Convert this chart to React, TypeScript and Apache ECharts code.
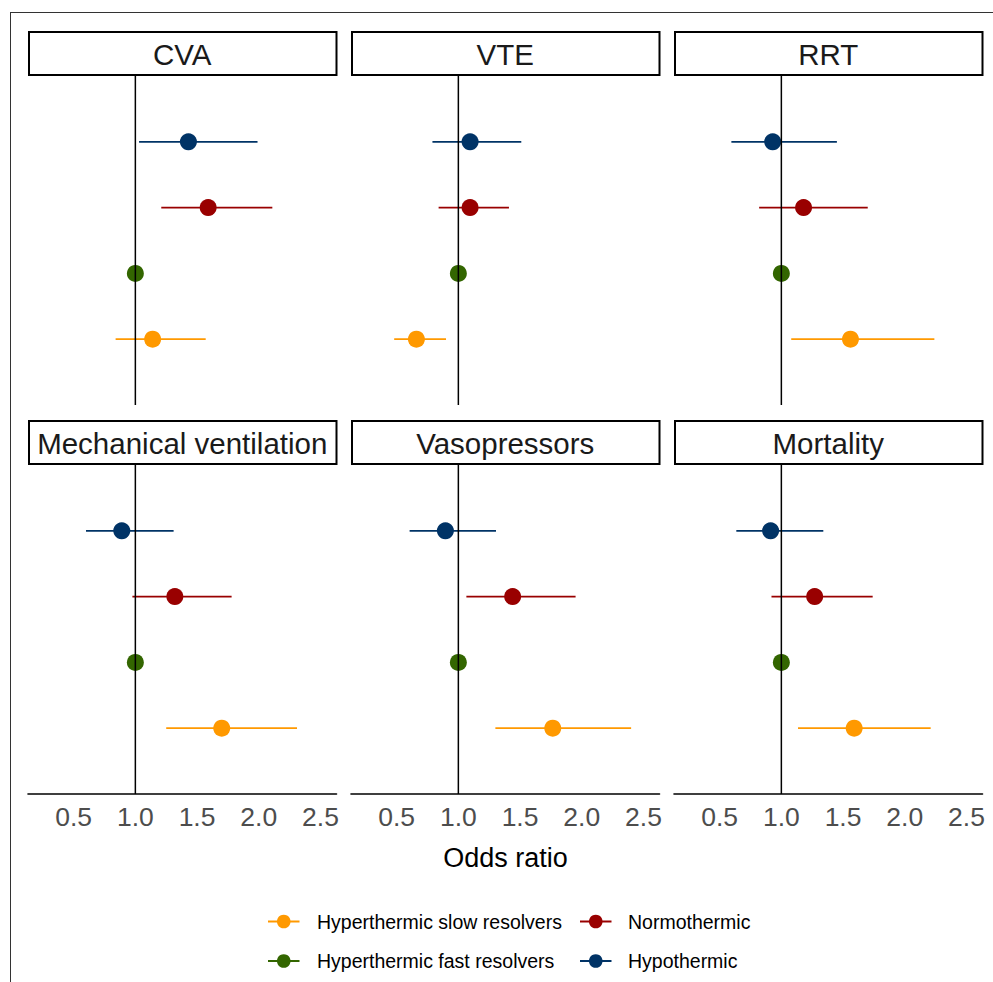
import React, { useEffect, useRef } from "react";
import * as echarts from "echarts";

const PANELS = ["CVA", "VTE", "RRT", "Mechanical ventilation", "Vasopressors", "Mortality"];
const GROUPS = ["Hypothermic", "Normothermic", "Hyperthermic fast resolvers", "Hyperthermic slow resolvers"];
const GROUP_COLORS = ["#003366", "#990000", "#336600", "#FF9900"];
const X_TICKS = [0.5, 1.0, 1.5, 2.0, 2.5];
const AXIS_TITLE = "Odds ratio";

// Odds ratios and 95% CI per panel (order of PANELS)
const hypoOR = [1.43, 1.095, 0.93, 0.89, 0.895, 0.913];
const hypoLo = [1.03, 0.79, 0.595, 0.6, 0.605, 0.635];
const hypoHi = [1.99, 1.51, 1.45, 1.31, 1.305, 1.34];
const normoOR = [1.59, 1.095, 1.18, 1.32, 1.44, 1.27];
const normoLo = [1.21, 0.84, 0.82, 0.976, 1.065, 0.92];
const normoHi = [2.11, 1.41, 1.7, 1.78, 1.95, 1.74];
const fastOR = [1, 1, 1, 1, 1, 1];
const slowOR = [1.14, 0.66, 1.56, 1.7, 1.765, 1.59];
const slowLo = [0.84, 0.48, 1.08, 1.25, 1.3, 1.135];
const slowHi = [1.57, 0.9, 2.24, 2.31, 2.4, 2.21];

const OR_VALUES = [hypoOR, normoOR, fastOR, slowOR];
const LO_VALUES: (number[] | null)[] = [hypoLo, normoLo, null, slowLo];
const HI_VALUES: (number[] | null)[] = [hypoHi, normoHi, null, slowHi];

// legend layout: [group index, column, row]
const LEGEND_ORDER = [
  [3, 0, 0],
  [1, 1, 0],
  [2, 0, 1],
  [0, 1, 1],
];

const FONT = "'Liberation Sans', Arial, sans-serif";

export default function App() {
  const ref = useRef<HTMLDivElement>(null);

  useEffect(() => {
    document.body.style.margin = "0";
    if (!ref.current) return;
    const chart = echarts.init(ref.current, undefined, { renderer: "svg" });

    const lefts = [28, 351, 674];
    const tops = [76, 465];
    const W = 308.5;
    const H = 329;

    const grids: any[] = [];
    const xAxes: any[] = [];
    const yAxes: any[] = [];
    const series: any[] = [];
    const graphics: any[] = [];

    PANELS.forEach((name, p) => {
      const row = Math.floor(p / 3);
      const col = p % 3;
      const bottomRow = row === 1;
      grids.push({ left: lefts[col], top: tops[row], width: W, height: H });
      xAxes.push({
        type: "value",
        gridIndex: p,
        position: "bottom",
        min: 0.13,
        max: 2.63,
        axisLine: { show: bottomRow, onZero: false, lineStyle: { color: "#000", width: 1.6 } },
        axisTick: { show: false },
        splitLine: { show: false },
        axisLabel: {
          show: bottomRow,
          customValues: X_TICKS,
          formatter: (v: number) => v.toFixed(1),
          color: "#4D4D4D",
          fontSize: 26.5,
          fontFamily: FONT,
          margin: 9,
        },
      });
      yAxes.push({ type: "value", gridIndex: p, min: 0, max: 5, inverse: true, show: false });

      GROUPS.forEach((g, gi) => {
        const lo = LO_VALUES[gi];
        const hi = HI_VALUES[gi];
        if (lo && hi) {
          series.push({
            type: "custom",
            name: g,
            xAxisIndex: p,
            yAxisIndex: p,
            z: 2,
            encode: { x: [0, 1], y: 2 },
            data: [[lo[p], hi[p], gi + 1]],
            renderItem: (params: any, api: any) => {
              const y = api.value(2);
              const a = api.coord([api.value(0), y]);
              const b = api.coord([api.value(1), y]);
              return {
                type: "line",
                shape: { x1: a[0], y1: a[1], x2: b[0], y2: b[1] },
                style: { stroke: GROUP_COLORS[gi], lineWidth: 1.8 },
              };
            },
          });
        }
        series.push({
          type: "scatter",
          name: g,
          xAxisIndex: p,
          yAxisIndex: p,
          z: 3,
          symbol: "circle",
          symbolSize: 17,
          itemStyle: { color: GROUP_COLORS[gi], opacity: 1 },
          data: [[OR_VALUES[gi][p], gi + 1]],
        });
      });

      series.push({
        type: "line",
        name: "ref" + p,
        xAxisIndex: p,
        yAxisIndex: p,
        z: 4,
        symbol: "none",
        lineStyle: { color: "#000", width: 1.5 },
        data: [
          [1, 0],
          [1, 5],
        ],
      });

      // strip
      const sy = row === 0 ? 31 : 420;
      graphics.push({
        type: "rect",
        shape: { x: lefts[col] + 1, y: sy + 1, width: W - 1, height: 43 },
        style: { fill: "#fff", stroke: "#000", lineWidth: 2 },
      });
      graphics.push({
        type: "text",
        x: lefts[col] + W / 2,
        y: sy + 23,
        style: {
          text: name,
          fontSize: 29.5,
          fontFamily: FONT,
          fill: "#1A1A1A",
          align: "center",
          verticalAlign: "middle",
        },
      });
    });

    // outer frame
    graphics.push({
      type: "line",
      shape: { x1: 10, y1: 12.5, x2: 993, y2: 12.5 },
      style: { stroke: "#333", lineWidth: 1 },
    });
    graphics.push({
      type: "line",
      shape: { x1: 10.5, y1: 12, x2: 10.5, y2: 982 },
      style: { stroke: "#333", lineWidth: 1 },
    });
    graphics.push({
      type: "text",
      x: 505.5,
      y: 858,
      style: {
        text: AXIS_TITLE,
        fontSize: 27,
        fontFamily: FONT,
        fill: "#000",
        align: "center",
        verticalAlign: "middle",
      },
    });

    // legend (drawn keys)
    const colX = [268, 580];
    const textX = [317, 628];
    const rowY = [921.5, 961];
    LEGEND_ORDER.forEach(([gi, c, r]) => {
      const color = GROUP_COLORS[gi];
      graphics.push({
        type: "line",
        shape: { x1: colX[c], y1: rowY[r], x2: colX[c] + 31.5, y2: rowY[r] },
        style: { stroke: color, lineWidth: 2 },
      });
      graphics.push({
        type: "circle",
        shape: { cx: colX[c] + 15.75, cy: rowY[r], r: 6.8 },
        style: { fill: color },
      });
      graphics.push({
        type: "text",
        x: textX[c],
        y: rowY[r],
        style: {
          text: GROUPS[gi],
          fontSize: 19.5,
          fontFamily: FONT,
          fill: "#000",
          align: "left",
          verticalAlign: "middle",
        },
      });
    });

    chart.setOption({
      animation: false,
      backgroundColor: "#fff",
      grid: grids,
      xAxis: xAxes,
      yAxis: yAxes,
      series,
      graphic: graphics,
    });

    return () => chart.dispose();
  }, []);

  return <div ref={ref} style={{ width: 993, height: 982 }} />;
}
